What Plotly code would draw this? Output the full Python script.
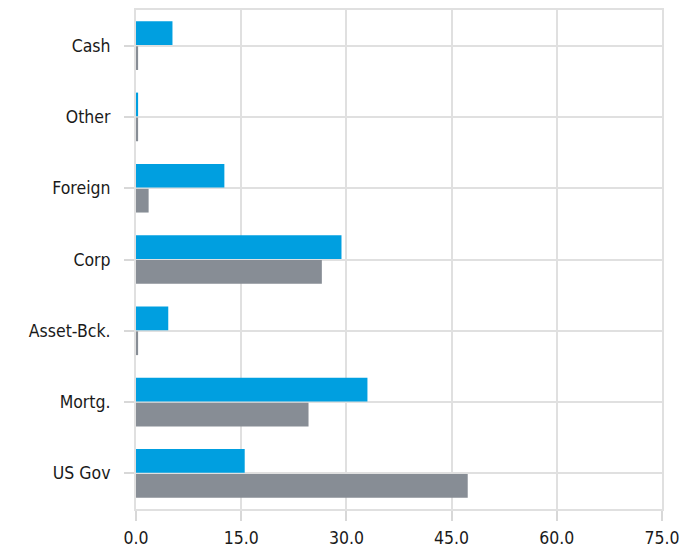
import plotly.graph_objects as go

categories = ["US Gov", "Mortg.", "Asset-Bck.", "Corp", "Foreign", "Other", "Cash"]
fund_values = [15.5, 33.0, 4.6, 29.3, 12.6, 0.3, 5.2]
benchmark_values = [47.3, 24.6, 0.3, 26.5, 1.8, 0.3, 0.3]
x_ticks = [0, 15, 30, 45, 60, 75]
x_tick_labels = ["0.0", "15.0", "30.0", "45.0", "60.0", "75.0"]

fig = go.Figure()
fig.add_trace(go.Bar(y=categories, x=benchmark_values, orientation="h",
                     marker=dict(color="#878d95", line=dict(width=0)), name="Benchmark"))
fig.add_trace(go.Bar(y=categories, x=fund_values, orientation="h",
                     marker=dict(color="#009fe0", line=dict(width=0)), name="Fund"))

font_family = "DejaVu Sans Condensed, Liberation Sans Narrow, Liberation Sans, Arial, sans-serif"
fig.update_layout(
    width=692, height=546,
    margin=dict(l=128, r=38, t=0, b=45),
    barmode="group", bargap=0.3, bargroupgap=0.05,
    plot_bgcolor="white", paper_bgcolor="white",
    showlegend=False,
    font=dict(family=font_family, size=17.5, color="#1a1a1a"),
)
fig.update_xaxes(range=[0, 75], tickvals=x_ticks, ticktext=x_tick_labels,
                 showgrid=True, gridcolor="#e0e0e0", gridwidth=2,
                 showline=True, linecolor="#e0e0e0", linewidth=2, mirror=True,
                 zeroline=False, ticks="outside", ticklen=10, tickcolor="#d8d8d8",
                 tickwidth=2, ticklabelstandoff=2)
fig.update_yaxes(showgrid=True, gridcolor="#e0e0e0", gridwidth=2,
                 showline=True, linecolor="#e0e0e0", linewidth=2, mirror=True,
                 ticks="outside", ticklen=10, tickcolor="#d8d8d8", tickwidth=2,
                 ticklabelstandoff=10)

fig.write_html("out.html")
